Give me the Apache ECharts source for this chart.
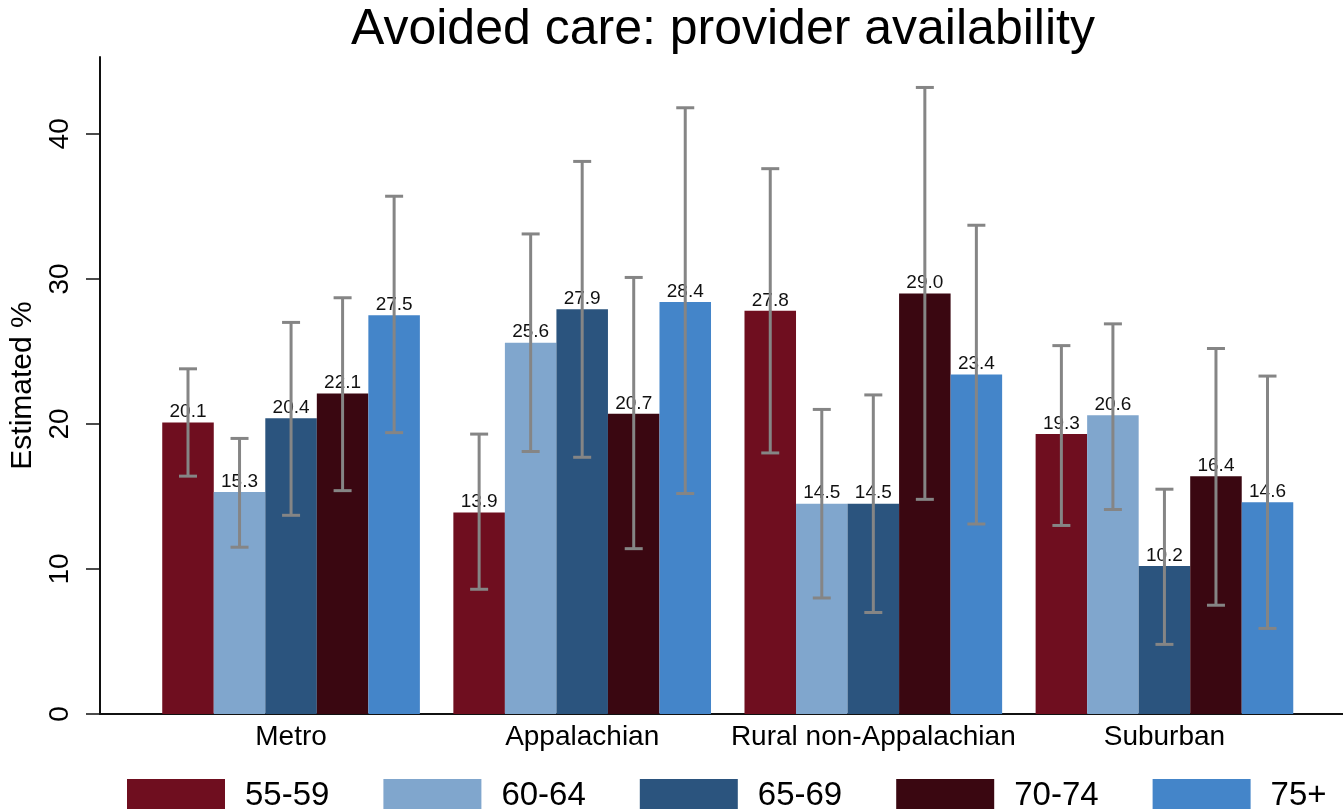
<!DOCTYPE html>
<html>
<head>
<meta charset="utf-8">
<script src="https://cdn.jsdelivr.net/npm/echarts@6/dist/echarts.min.js"></script>
<style>
html,body{margin:0;padding:0;background:#fff;}
#chart{width:1343px;height:809px;}
</style>
</head>
<body>
<div id="chart"></div>
<script>
var categories = ['Metro', 'Appalachian', 'Rural non-Appalachian', 'Suburban'];
var seriesNames = ['55-59', '60-64', '65-69', '70-74', '75+'];
var yTicks = [0, 10, 20, 30, 40];

var est_55_59 = [20.1, 13.9, 27.8, 19.3];
var est_60_64 = [15.3, 25.6, 14.5, 20.6];
var est_65_69 = [20.4, 27.9, 14.5, 10.2];
var est_70_74 = [22.1, 20.7, 29.0, 16.4];
var est_75p   = [27.5, 28.4, 23.4, 14.6];

var lo_55_59 = [16.4, 8.6, 18.0, 13.0];
var hi_55_59 = [23.8, 19.3, 37.6, 25.4];
var lo_60_64 = [11.5, 18.1, 8.0, 14.1];
var hi_60_64 = [19.0, 33.1, 21.0, 26.9];
var lo_65_69 = [13.7, 17.7, 7.0, 4.8];
var hi_65_69 = [27.0, 38.1, 22.0, 15.5];
var lo_70_74 = [15.4, 11.4, 14.8, 7.5];
var hi_70_74 = [28.7, 30.1, 43.2, 25.2];
var lo_75p   = [19.4, 15.2, 13.1, 5.9];
var hi_75p   = [35.7, 41.8, 33.7, 23.3];

var estimates = [est_55_59, est_60_64, est_65_69, est_70_74, est_75p];
var lows = [lo_55_59, lo_60_64, lo_65_69, lo_70_74, lo_75p];
var highs = [hi_55_59, hi_60_64, hi_65_69, hi_70_74, hi_75p];
var colors = ['#6f0e1f', '#80a6cd', '#2b547e', '#3a0711', '#4485c9'];

var FONT = '"Liberation Sans", Arial, sans-serif';
var CAT_GAP = 0.115;
var Y_MAX = 45.3;

function errRender(si) {
  return function (params, api) {
    var cat = api.value(0), lo = api.value(1), hi = api.value(2);
    var band = api.size([1, 0])[0];
    var bw = band * (1 - CAT_GAP) / 5;
    var c = api.coord([cat, 0]);
    var x = c[0] + (si - 2) * bw;
    var yLo = api.coord([cat, lo])[1];
    var yHi = api.coord([cat, hi])[1];
    var hw = 9;
    var st = { stroke: '#858585', lineWidth: 3 };
    return {
      type: 'group',
      children: [
        { type: 'line', shape: { x1: x, y1: yLo, x2: x, y2: yHi }, style: st },
        { type: 'line', shape: { x1: x - hw, y1: yHi, x2: x + hw, y2: yHi }, style: st },
        { type: 'line', shape: { x1: x - hw, y1: yLo, x2: x + hw, y2: yLo }, style: st }
      ]
    };
  };
}

var series = [];
seriesNames.forEach(function (name, i) {
  series.push({
    name: name,
    type: 'bar',
    xAxisIndex: 0,
    yAxisIndex: 0,
    barGap: '0%',
    barCategoryGap: (CAT_GAP * 100) + '%',
    itemStyle: { color: colors[i] },
    label: {
      show: true,
      position: 'top',
      distance: 1,
      fontFamily: FONT,
      fontSize: 19,
      color: '#111',
      formatter: function (p) { return p.value.toFixed(1); }
    },
    data: estimates[i]
  });
});
seriesNames.forEach(function (name, i) {
  series.push({
    type: 'custom',
    xAxisIndex: 0,
    yAxisIndex: 0,
    z: 10,
    renderItem: errRender(i),
    encode: { x: 0, y: [1, 2] },
    data: categories.map(function (c, k) { return [k, lows[i][k], highs[i][k]]; })
  });
});

var chart = echarts.init(document.getElementById('chart'), null, { renderer: 'canvas' });
chart.setOption({
  animation: false,
  backgroundColor: '#ffffff',
  title: {
    text: 'Avoided care: provider availability',
    left: 351,
    top: 0,
    padding: [5, 0, 0, 0],
    textStyle: { fontFamily: FONT, fontSize: 50, fontWeight: 'normal', color: '#000' }
  },
  legend: {
    data: seriesNames,
    left: 122,
    top: 774,
    itemWidth: 98,
    itemHeight: 34,
    itemGap: 54,
    icon: 'rect',
    textStyle: { fontFamily: FONT, fontSize: 33, color: '#000', padding: [0, 0, 0, 15] }
  },
  grid: [
    { left: 145.5, right: 33, top: 57, bottom: 95, containLabel: false, outerBoundsMode: 'none' },
    { left: 100, right: 0, top: 57, bottom: 95, containLabel: false, outerBoundsMode: 'none' }
  ],
  xAxis: [
    {
      type: 'category', gridIndex: 0, data: categories,
      axisLine: { show: false }, axisTick: { show: false },
      axisLabel: { fontFamily: FONT, fontSize: 28, color: '#000', margin: 9, interval: 0 }
    },
    {
      type: 'value', gridIndex: 1, min: 0, max: 1,
      axisLine: { show: true, lineStyle: { color: '#111', width: 2 } },
      axisTick: { show: false }, axisLabel: { show: false }, splitLine: { show: false }
    }
  ],
  yAxis: [
    { type: 'value', gridIndex: 0, min: 0, max: Y_MAX, show: false, splitLine: { show: false } },
    {
      type: 'value', gridIndex: 1, min: 0, max: Y_MAX, interval: 10,
      name: 'Estimated %', nameLocation: 'middle', nameGap: 56,
      nameTextStyle: { fontFamily: FONT, fontSize: 30, color: '#000' },
      axisLine: { show: true, lineStyle: { color: '#111', width: 2 } },
      axisTick: { show: true, length: 14, customValues: yTicks, lineStyle: { color: '#111', width: 1.5 } },
      axisLabel: { rotate: 90, fontFamily: FONT, fontSize: 28, color: '#000', margin: 26, customValues: yTicks },
      splitLine: { show: false }
    }
  ],
  series: series
});
</script>
</body>
</html>
